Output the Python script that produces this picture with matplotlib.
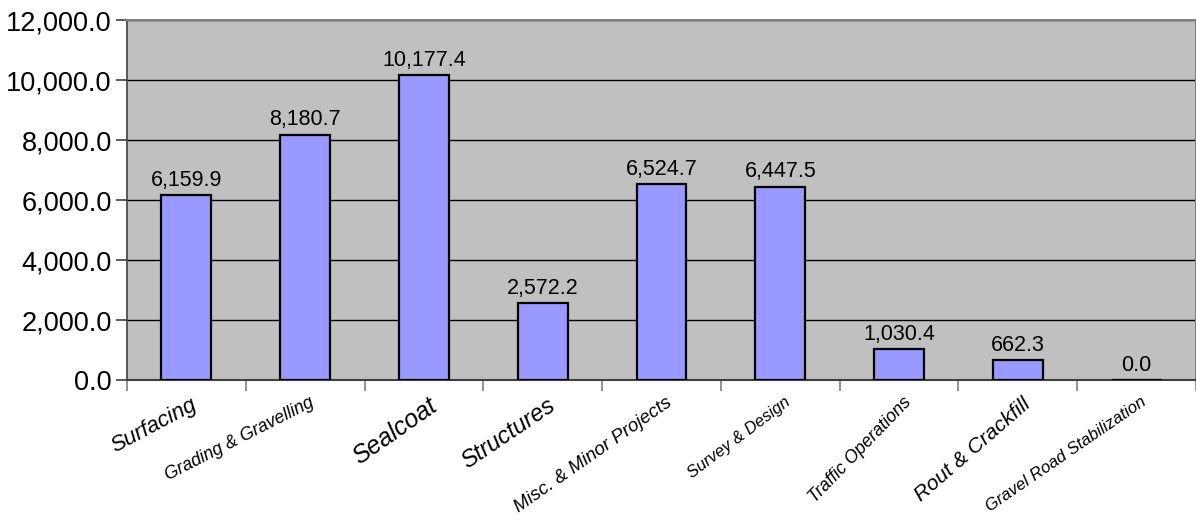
import matplotlib
matplotlib.use("Agg")
import matplotlib.pyplot as plt
from matplotlib.ticker import FuncFormatter, MultipleLocator
from matplotlib.transforms import blended_transform_factory, ScaledTranslation

categories = [
    "Surfacing",
    "Grading & Gravelling",
    "Sealcoat",
    "Structures",
    "Misc. & Minor Projects",
    "Survey & Design",
    "Traffic Operations",
    "Rout & Crackfill",
    "Gravel Road Stabilization",
]
values = [6159.9, 8180.7, 10177.4, 2572.2, 6524.7, 6447.5, 1030.4, 662.3, 0.0]

# per-label text size and slant of the category names
label_sizes = [16, 12.8, 18, 17, 13.6, 12, 12.8, 15.3, 12.2]
label_angles = [28, 27, 35, 34, 35, 37, 46, 41, 34.5]

plt.rcParams["font.family"] = ["Liberation Sans", "DejaVu Sans"]

fig = plt.figure(figsize=(11.96, 5.20), dpi=100)
ax = fig.add_axes([127 / 1196, 1 - 380 / 520, 1 - 127 / 1196, 360 / 520])
ax.set_facecolor("#C0C0C0")

x = list(range(len(categories)))
ax.bar(x, values, width=0.42, color="#9999FF", edgecolor="black",
       linewidth=1.6, zorder=3)

ax.set_ylim(0, 12000)
ax.set_xlim(-0.5, len(categories) - 0.5)
ax.yaxis.set_major_locator(MultipleLocator(2000))
ax.yaxis.set_major_formatter(FuncFormatter(lambda v, p: f"{v:,.1f}"))
ax.grid(axis="y", color="black", linewidth=1.0, zorder=1)
ax.set_axisbelow(True)

ax.tick_params(axis="y", direction="out", length=8, width=1.2,
               color="#404040", labelsize=19.5, pad=3)

# tick marks sit on category boundaries; names are placed separately
ax.set_xticks([i + 0.5 for i in range(-1, len(categories))])
ax.set_xticklabels([])
ax.tick_params(axis="x", direction="out", length=8, width=1.2, color="#808080")

for side in ("top", "right"):
    ax.spines[side].set_color("#808080")
    ax.spines[side].set_linewidth(1.5)
ax.spines["left"].set_color("#404040")
ax.spines["left"].set_linewidth(1.2)
ax.spines["bottom"].set_color("#404040")
ax.spines["bottom"].set_linewidth(1.5)

# value labels above each bar
for xi, v in zip(x, values):
    ax.annotate(f"{v:,.1f}", (xi, v), xytext=(0, 3), textcoords="offset points",
                ha="center", va="bottom", fontsize=15.5, color="black", zorder=4)

# rotated, italic category names under the axis
trans = blended_transform_factory(ax.transData, ax.transAxes)
for xi, name, size, ang in zip(x, categories, label_sizes, label_angles):
    t = trans + ScaledTranslation(4 / 100, -14 / 100, fig.dpi_scale_trans)
    ax.text(xi, 0, name, transform=t, rotation=ang, rotation_mode="anchor",
            ha="right", va="top", fontsize=size, fontstyle="italic",
            color="black", clip_on=False)

fig.savefig("out.png", dpi=100, facecolor="white")
